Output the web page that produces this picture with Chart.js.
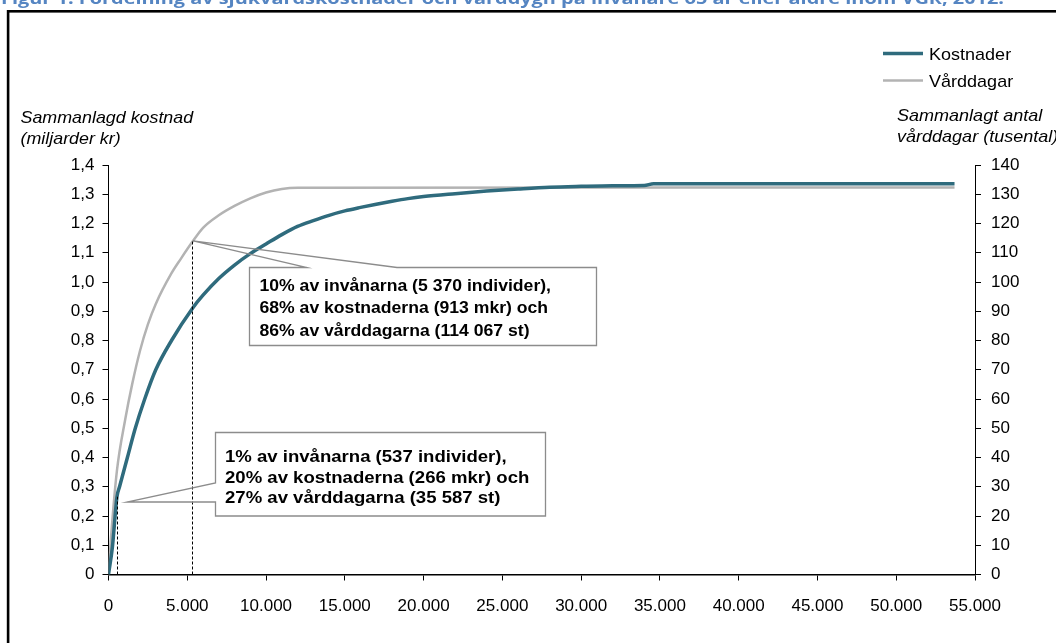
<!DOCTYPE html>
<html>
<head>
<meta charset="utf-8">
<script src="https://cdn.jsdelivr.net/npm/chart.js@4.4.1/dist/chart.umd.min.js"></script>
<style>
  html, body { margin: 0; padding: 0; background: #fff; overflow: hidden; }
  #wrap { position: relative; width: 1056px; height: 643px; }
  canvas { position: absolute; left: 0; top: 0; }
</style>
</head>
<body>
<div id="wrap"><canvas id="c" width="1056" height="643"></canvas></div>
<script>
// Kumulativa sjukvårdskostnader (miljarder kr) efter antal invånare, sorterade efter kostnad
const kostnadIndivider = [0, 250, 537, 700, 1200, 1700, 2300, 3000, 4000, 5370, 6000, 7000, 8000, 9000,
  10000, 11000, 12000, 13000, 14000, 15000, 16000, 17000, 18000, 19000, 20000, 22000, 24000, 26000,
  28000, 30000, 32000, 34000, 34600, 53700];
const kostnadMiljarder = [0, 0.095, 0.266, 0.30, 0.40, 0.50, 0.60, 0.70, 0.80, 0.913, 0.955, 1.012, 1.058, 1.097,
  1.13, 1.162, 1.19, 1.21, 1.228, 1.243, 1.255, 1.266, 1.276, 1.285, 1.292, 1.302, 1.311, 1.318,
  1.324, 1.327, 1.329, 1.33, 1.336, 1.336];

// Kumulativa vårddagar (tusental)
const dagarIndivider = [0, 150, 537, 1060, 1500, 2000, 2500, 3000, 4000, 4600, 5370, 6000, 7000, 8000,
  9000, 10000, 11000, 12000, 53700];
const dagarTusental = [0, 12, 35.587, 53, 65, 76.5, 85.5, 92.5, 103, 108, 114.067, 118.5, 122.8, 126,
  128.6, 130.6, 131.8, 132.2, 132.3];

// Axelindelning
const individTicks = [0, 5000, 10000, 15000, 20000, 25000, 30000, 35000, 40000, 45000, 50000, 55000];
const kostnadTicks = [0, 0.1, 0.2, 0.3, 0.4, 0.5, 0.6, 0.7, 0.8, 0.9, 1.0, 1.1, 1.2, 1.3, 1.4];
const dagarTicks = [0, 10, 20, 30, 40, 50, 60, 70, 80, 90, 100, 110, 120, 130, 140];

// Markerade andelar av invånarna
const markeradeIndivider = [537, 5370];

const seriesNames = ['Kostnader', 'Vårddagar'];
const titel = 'Figur 1. Fördelning av sjukvårdskostnader och vårddygn på invånare 65 år eller äldre inom VGR, 2012.';
const vansterTitel = ['Sammanlagd kostnad', '(miljarder kr)'];
const hogerTitel = ['Sammanlagt antal', 'vårddagar (tusental)'];
const rutaText = [
  ['1% av invånarna (537 individer),', '20% av kostnaderna (266 mkr) och', '27% av vårddagarna (35 587 st)'],
  ['10% av invånarna (5 370 individer),', '68% av kostnaderna (913 mkr) och', '86% av vårddagarna (114 067 st)']
];

const TEAL = '#2f6b7d';
const GREY = '#b3b3b3';
const FONT = '"Liberation Sans", Arial, sans-serif';

const fmtThousands = v => v === 0 ? '0' : String(v).replace(/\B(?=(\d{3})+(?!\d))/g, '.');
const fmtComma = v => v === 0 ? '0' : v.toFixed(1).replace('.', ',');

function pts(xs, ys) { return xs.map((x, i) => ({ x: x, y: ys[i] })); }

function stretched(ctx, txt, x, y, sx) {
  ctx.save();
  ctx.translate(x, y);
  ctx.scale(sx, 1);
  ctx.fillText(txt, 0, 0);
  ctx.restore();
}

// Figurtext, ram, förklaringar, rutor och stödlinjer
const decor = {
  id: 'decor',
  afterDatasetsDraw(chart) {
    const ctx = chart.ctx;
    const sx = chart.scales.x, sy = chart.scales.y, sy2 = chart.scales.y2;

    const kostnadVid = n => kostnadMiljarder[kostnadIndivider.indexOf(n)];
    const dagarVid = n => dagarTusental[dagarIndivider.indexOf(n)];

    // Streckade lodlinjer
    ctx.save();
    ctx.strokeStyle = '#000';
    ctx.lineWidth = 1;
    ctx.setLineDash([3, 2]);
    const x1 = Math.round(sx.getPixelForValue(markeradeIndivider[0])) + 0.5;
    ctx.beginPath();
    ctx.moveTo(x1, sy.getPixelForValue(0));
    ctx.lineTo(x1, sy.getPixelForValue(kostnadVid(markeradeIndivider[0])));
    ctx.stroke();
    const x2 = Math.round(sx.getPixelForValue(markeradeIndivider[1])) - 0.5;
    ctx.beginPath();
    ctx.moveTo(x2, sy.getPixelForValue(0));
    ctx.lineTo(x2, sy2.getPixelForValue(dagarVid(markeradeIndivider[1])));
    ctx.stroke();
    ctx.restore();

    // Rutor med pekare
    const rutor = [
      { x: 215.5, y: 432.5, w: 330, h: 83.5, side: 'left', from: 483, to: 502,
        tip: { x: sx.getPixelForValue(1170), y: 502 },
        textX: 225, base: [462, 482.5, 503], stretch: 1.16, lines: rutaText[0] },
      { x: 249.5, y: 267.5, w: 347, h: 78, side: 'top', from: 307, to: 397,
        tip: { x: sx.getPixelForValue(markeradeIndivider[1]), y: sy2.getPixelForValue(dagarVid(markeradeIndivider[1])) },
        textX: 259.5, base: [291, 313.3, 335.5], stretch: 1.1, lines: rutaText[1] }
    ];
    rutor.forEach(r => {
      ctx.save();
      ctx.fillStyle = '#fff';
      ctx.fillRect(r.x, r.y, r.w, r.h);
      ctx.strokeStyle = '#8c8c8c';
      ctx.lineWidth = 1.3;
      ctx.beginPath();
      if (r.side === 'top') {
        ctx.moveTo(r.x, r.y);
        ctx.lineTo(r.from, r.y);
        ctx.lineTo(r.tip.x, r.tip.y);
        ctx.lineTo(r.to, r.y);
        ctx.lineTo(r.x + r.w, r.y);
        ctx.lineTo(r.x + r.w, r.y + r.h);
        ctx.lineTo(r.x, r.y + r.h);
        ctx.closePath();
      } else {
        ctx.moveTo(r.x, r.y);
        ctx.lineTo(r.x + r.w, r.y);
        ctx.lineTo(r.x + r.w, r.y + r.h);
        ctx.lineTo(r.x, r.y + r.h);
        ctx.lineTo(r.x, r.to);
        ctx.lineTo(r.tip.x, r.tip.y);
        ctx.lineTo(r.x, r.from);
        ctx.closePath();
      }
      ctx.stroke();
      ctx.fillStyle = '#000';
      ctx.font = 'bold 16px ' + FONT;
      ctx.textBaseline = 'alphabetic';
      ctx.textAlign = 'left';
      r.lines.forEach((t, i) => stretched(ctx, t, r.textX, r.base[i], r.stretch));
      ctx.restore();
    });
  },
  afterDraw(chart) {
    const ctx = chart.ctx;
    ctx.save();

    // Ram
    ctx.fillStyle = '#000';
    ctx.fillRect(7, 10, 1056, 2.6);
    ctx.fillRect(6.8, 10, 2.6, 640);

    // Figurrubrik (överkant utanför bild)
    ctx.fillStyle = '#5585c2';
    ctx.font = 'bold 16px "Open Sans", ' + FONT;
    ctx.textBaseline = 'alphabetic';
    const tw = ctx.measureText(titel).width;
    stretched(ctx, titel, 1, 3.5, 1003 / tw);

    // Axeltitlar
    ctx.fillStyle = '#000';
    ctx.font = 'italic 17px ' + FONT;
    stretched(ctx, vansterTitel[0], 20.5, 122.5, 1.05);
    stretched(ctx, vansterTitel[1], 20.5, 143.5, 1.05);
    stretched(ctx, hogerTitel[0], 897, 120.8, 1.06);
    stretched(ctx, hogerTitel[1], 897, 141.8, 1.06);

    // Teckenförklaring
    const legendY = [53.5, 80.5];
    const colors = [TEAL, GREY];
    const widths = [3.5, 2.5];
    ctx.font = '17px ' + FONT;
    seriesNames.forEach((n, i) => {
      ctx.strokeStyle = colors[i];
      ctx.lineWidth = widths[i];
      ctx.beginPath();
      ctx.moveTo(883, legendY[i]);
      ctx.lineTo(923, legendY[i]);
      ctx.stroke();
      ctx.fillStyle = '#000';
      stretched(ctx, n, 929, legendY[i] + 6.2, 1.06);
    });
    ctx.restore();
  }
};

const tickFont = { family: FONT, size: 17 };

new Chart(document.getElementById('c'), {
  type: 'line',
  data: {
    datasets: [
      { label: seriesNames[0], data: pts(kostnadIndivider, kostnadMiljarder), yAxisID: 'y',
        borderColor: TEAL, borderWidth: 3.5, pointRadius: 0, fill: false,
        cubicInterpolationMode: 'monotone', borderCapStyle: 'butt' },
      { label: seriesNames[1], data: pts(dagarIndivider, dagarTusental), yAxisID: 'y2',
        borderColor: GREY, borderWidth: 2.5, pointRadius: 0, fill: false,
        cubicInterpolationMode: 'monotone', borderCapStyle: 'butt' }
    ]
  },
  options: {
    responsive: false,
    animation: false,
    devicePixelRatio: 1,
    layout: { padding: { top: 165, left: 0, right: 0, bottom: 0 } },
    plugins: { legend: { display: false }, tooltip: { enabled: false }, title: { display: false } },
    scales: {
      x: {
        type: 'linear', min: 0, max: 55000,
        afterBuildTicks: s => { s.ticks = individTicks.map(v => ({ value: v })); },
        afterFit: s => { s.height = 68.5; },
        grid: { drawOnChartArea: false, drawTicks: true, tickLength: 6, color: '#000', lineWidth: 1 },
        border: { display: true, color: '#000', width: 1.5 },
        ticks: { color: '#000', font: tickFont, padding: 16, maxRotation: 0, autoSkip: false,
          callback: v => fmtThousands(v) }
      },
      y: {
        position: 'left', min: 0, max: 1.4,
        afterBuildTicks: s => { s.ticks = kostnadTicks.map(v => ({ value: v })); },
        afterFit: s => { s.width = 108.5; },
        grid: { drawOnChartArea: false, drawTicks: true, tickLength: 6, color: '#000', lineWidth: 1 },
        border: { display: true, color: '#000', width: 1 },
        ticks: { color: '#000', font: tickFont, padding: 8, autoSkip: false,
          callback: v => fmtComma(v) }
      },
      y2: {
        position: 'right', min: 0, max: 140,
        afterBuildTicks: s => { s.ticks = dagarTicks.map(v => ({ value: v })); },
        afterFit: s => { s.width = 81; },
        grid: { drawOnChartArea: false, drawTicks: true, tickLength: 6, color: '#000', lineWidth: 1 },
        border: { display: true, color: '#000', width: 1 },
        ticks: { color: '#000', font: tickFont, padding: 10, autoSkip: false,
          callback: v => String(v) }
      }
    }
  },
  plugins: [decor]
});
</script>
</body>
</html>
